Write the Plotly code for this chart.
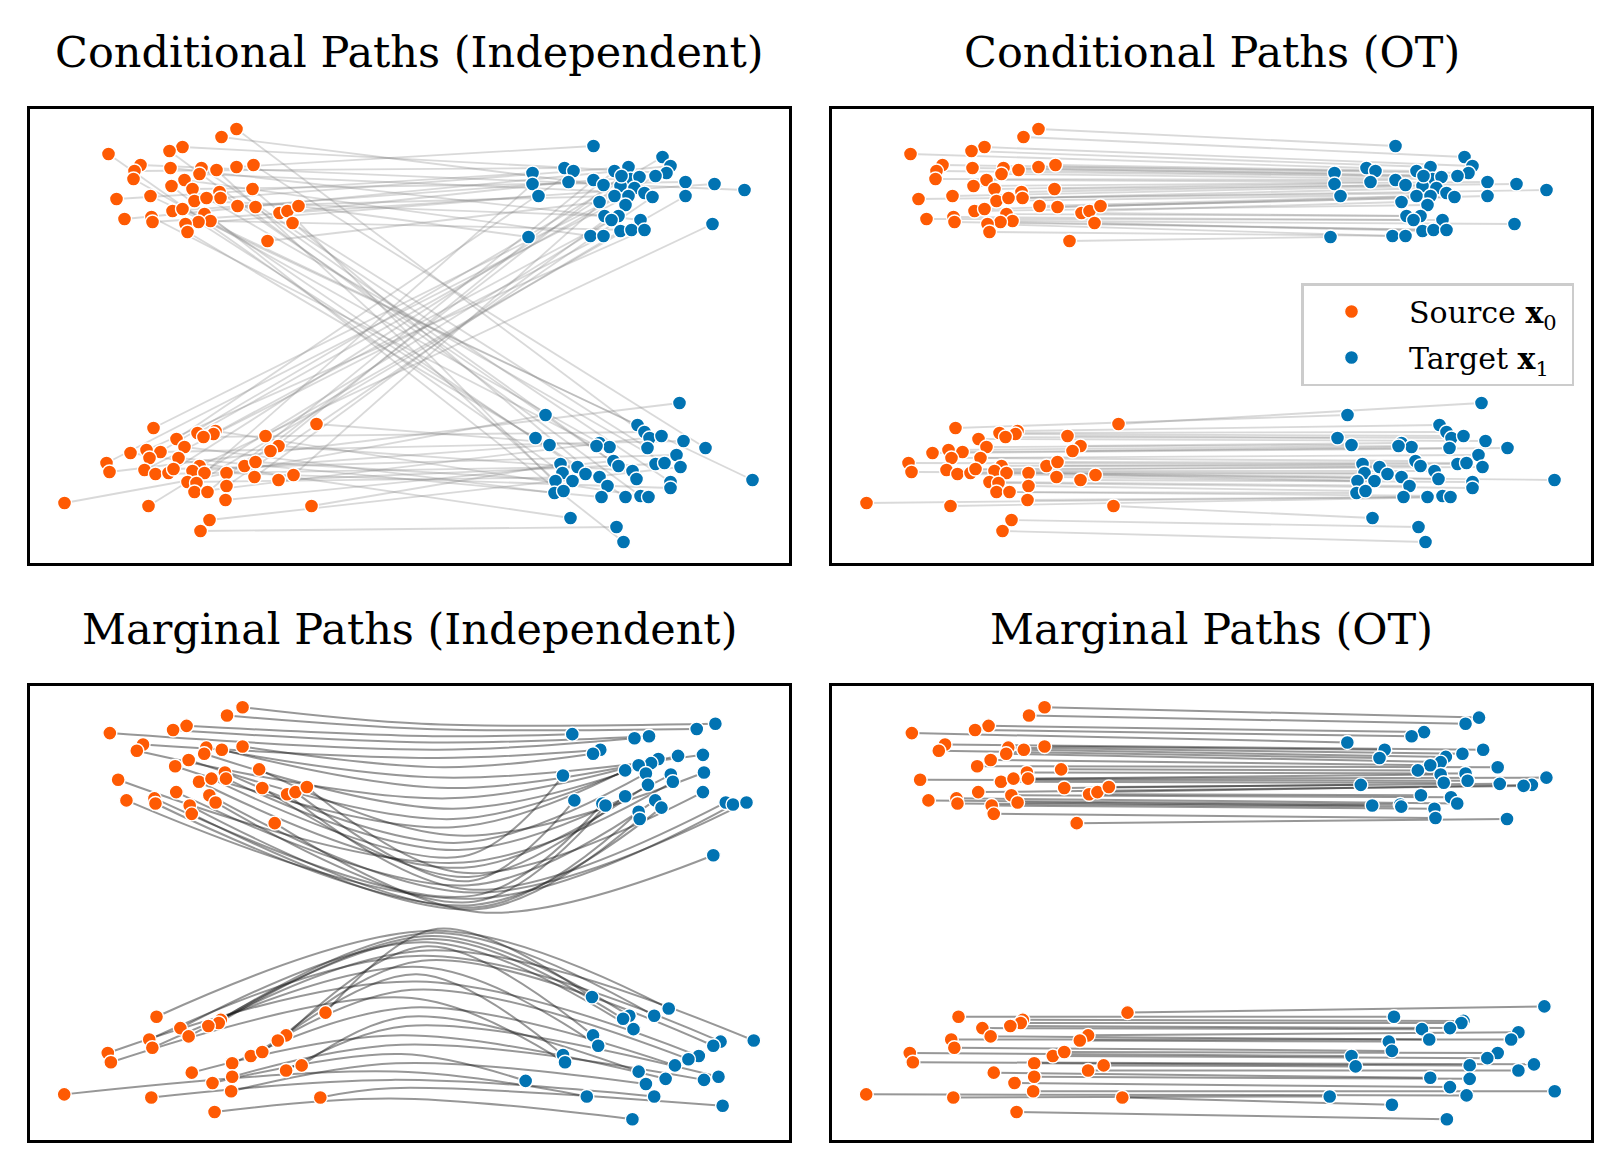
import plotly.graph_objects as go

SRC_COLOR = '#fe5a03'
TGT_COLOR = '#0173b2'
FONT = 'DejaVu Serif'

# ---------------- conditional samples (panels 1 and 2) ----------------
# sources x0: upper cluster (41) then lower cluster (42)
src_x = [-1.73, -1.88, -3.01, -2.27, -2.40, -2.69, -2.75, -2.76, -2.39, -2.08, -2.10, -1.93, -1.73, -1.56,
         -2.25, -2.38, -2.17, -1.90, -1.89, -1.57, -2.93, -2.59, -2.15, -2.03, -1.72, -1.54, -1.30, -1.22,
         -1.11, -1.17, -2.37, -2.27, -2.85, -2.58, -2.57, -2.05, -1.99, -2.11, -2.24, -2.22, -1.42,
         -2.56, -0.93, -2.12, -1.94, -1.96, -2.06, -2.33, -2.25, -1.44, -1.31, -1.39, -2.79, -2.63, -2.49,
         -2.60, -2.31, -3.03, -3.00, -2.65, -2.54, -2.41, -2.36, -2.10, -2.17, -2.05, -2.22, -2.13, -2.15,
         -2.02, -1.83, -1.83, -1.84, -1.65, -1.54, -1.55, -1.31, -1.16, -3.45, -2.61, -0.98, -2.00, -2.09]
src_y = [2.07, 1.99, 1.82, 1.89, 1.85, 1.71, 1.65, 1.57, 1.68, 1.68, 1.62, 1.66, 1.69, 1.71,
         1.56, 1.50, 1.47, 1.44, 1.38, 1.47, 1.37, 1.40, 1.35, 1.38, 1.30, 1.29, 1.23, 1.25,
         1.30, 1.13, 1.25, 1.27, 1.17, 1.19, 1.14, 1.22, 1.15, 1.14, 1.12, 1.04, 0.95,
         -0.92, -0.88, -0.97, -0.95, -0.98, -1.01, -1.03, -1.11, -1.00, -1.10, -1.15, -1.17, -1.14, -1.16,
         -1.22, -1.22, -1.27, -1.36, -1.34, -1.38, -1.37, -1.33, -1.30, -1.35, -1.37, -1.46, -1.47, -1.56,
         -1.56, -1.37, -1.50, -1.64, -1.30, -1.26, -1.41, -1.44, -1.39, -1.67, -1.70, -1.70, -1.84, -1.95]
n_top_src = 41

# targets x1: upper cluster (41) then lower cluster (42)
tgt_x = [1.84, 2.53, 2.61, 2.57, 2.46, 1.23, 1.23, 1.29, 1.55, 1.64, 1.59, 1.84, 1.94, 2.05, 2.19,
         2.21, 2.30, 2.11, 2.25, 2.35, 2.43, 2.05, 2.19, 1.90, 2.16, 2.76, 2.76, 3.05, 3.35, 3.03,
         1.95, 2.09, 2.02, 2.31, 2.11, 2.22, 2.35, 1.81, 1.94, 1.19, 2.12,
         2.70, 1.36, 2.28, 2.35, 2.40, 2.52, 2.38, 2.74, 2.96, 1.26, 1.40, 1.90, 2.00, 1.87, 2.04,
         2.09, 2.23, 2.27, 1.51, 1.53, 1.68, 1.76, 1.63, 1.46, 1.45, 1.54, 1.90, 1.98, 1.92, 2.16,
         2.31, 2.39, 2.46, 2.55, 2.67, 2.71, 2.61, 2.61, 3.43, 1.61, 2.07, 2.14]
tgt_y = [1.90, 1.79, 1.70, 1.63, 1.60, 1.63, 1.52, 1.40, 1.68, 1.65, 1.54, 1.56, 1.51, 1.65, 1.69,
         1.57, 1.59, 1.50, 1.48, 1.43, 1.39, 1.40, 1.40, 1.34, 1.31, 1.54, 1.40, 1.52, 1.46, 1.12,
         1.20, 1.20, 1.16, 1.16, 1.05, 1.06, 1.06, 1.00, 1.00, 0.99, 1.60,
         -0.67, -0.79, -0.89, -0.96, -1.02, -1.00, -1.12, -1.05, -1.12, -1.02, -1.09, -1.07, -1.11, -1.10,
         -1.25, -1.30, -1.35, -1.43, -1.28, -1.37, -1.31, -1.38, -1.45, -1.45, -1.57, -1.55, -1.41, -1.50,
         -1.61, -1.61, -1.60, -1.61, -1.28, -1.27, -1.19, -1.31, -1.46, -1.52, -1.44, -1.82, -1.91, -2.06]
n_top_tgt = 41

# independent coupling: target index for each source
indep_pair = [45, 12, 60, 3, 71, 28, 8, 52, 33, 77, 19, 64, 0, 49, 37, 82, 25, 56, 14, 68, 5, 43, 30,
              74, 21, 58, 10, 66, 39, 47, 16, 79, 2, 54, 27, 62, 35, 70, 7, 50, 23,
              18, 53, 4, 72, 31, 44, 9, 65, 26, 57, 13, 80, 36, 48, 1, 69, 22, 41, 38, 61, 15, 75, 29,
              51, 6, 67, 34, 46, 11, 78, 20, 55, 40, 63, 24, 73, 17, 42, 32, 59, 76, 81]

# ---------------- marginal paths (panels 3 and 4) ----------------
marg_idx_top = [0, 1, 2, 3, 4, 5, 6, 9, 10, 11, 12, 14, 15, 17, 18, 19, 20, 22, 23, 25, 26, 27, 28, 30,
                32, 33, 34, 35, 36, 38, 39, 40]
marg_idx_bot = [41, 42, 44, 45, 46, 47, 48, 50, 51, 53, 55, 57, 58, 66, 69, 70, 71, 72, 73, 74, 76, 77,
                78, 79, 80, 81]

# end points of the OT marginal flow
ot_top_x = [2.46, 2.33, 1.93, 1.81, 1.19, 2.50, 1.55, 2.30, 2.14, 1.50, 2.09, 1.99, 2.64, 1.87, 2.33, 2.09,
            3.11, 2.35, 2.12, 2.66, 1.32, 2.97, 2.89, 1.90, 2.19, 2.25, 1.70, 1.43, 1.71, 2.03, 2.04, 2.73]
ot_top_y = [1.97, 1.91, 1.83, 1.79, 1.73, 1.66, 1.66, 1.62, 1.59, 1.58, 1.54, 1.51, 1.49, 1.46, 1.43, 1.42,
            1.39, 1.36, 1.34, 1.33, 1.32, 1.32, 1.31, 1.22, 1.20, 1.14, 1.13, 1.12, 1.11, 1.09, 1.00, 0.99]
ot_bot_x = [3.09, 1.64, 2.31, 2.29, 2.18, 1.91, 2.84, 1.98, 2.77, 1.59, 1.62, 2.64, 1.23, 2.54, 2.99, 2.37,
            1.27, 2.84, 1.99, 2.37, 2.18, 3.19, 2.34, 1.02, 1.62, 2.15]
ot_bot_y = [-0.82, -0.92, -0.96, -0.98, -1.03, -1.04, -1.07, -1.14, -1.14, -1.16, -1.25, -1.27, -1.30, -1.32,
            -1.38, -1.39, -1.40, -1.44, -1.51, -1.52, -1.60, -1.64, -1.68, -1.69, -1.77, -1.91]

# end points of the independent marginal flow
ind_top_x = [1.45, 2.05, 2.19, 2.65, 2.83, 1.72, 1.65, 2.28, 2.21, 2.47, 2.71, 2.09, 1.96, 2.16, 1.36, 2.40,
             2.42, 2.72, 2.18, 2.71, 1.47, 1.74, 1.77, 1.96, 2.25, 2.31, 2.09, 2.10, 2.93, 3.00, 3.13, 2.81]
ind_top_y = [1.81, 1.77, 1.79, 1.86, 1.91, 1.66, 1.62, 1.57, 1.53, 1.60, 1.61, 1.51, 1.46, 1.43, 1.41, 1.42,
             1.35, 1.44, 1.32, 1.25, 1.17, 1.14, 1.12, 1.21, 1.17, 1.10, 1.06, 0.99, 1.15, 1.13, 1.15, 0.64]
ind_bot_x = [1.64, 2.38, 2.24, 2.00, 1.94, 2.04, 3.20, 2.88, 2.81, 1.65, 1.70, 1.36, 1.38, 2.67, 2.57, 2.44,
             2.09, 2.35, 2.16, 2.72, 2.86, 1.00, 1.59, 2.24, 2.90, 2.03]
ind_bot_y = [-0.73, -0.84, -0.91, -0.91, -0.94, -1.04, -1.15, -1.16, -1.20, -1.10, -1.20, -1.29, -1.36, -1.30,
             -1.33, -1.39, -1.45, -1.52, -1.57, -1.53, -1.50, -1.54, -1.69, -1.69, -1.78, -1.91]

# mid-way point of each independent marginal trajectory (ordered from highest source down)
mid_top_x = [0.0, 0.05, 0.1, 0.1, 0.15, 0.15, 0.2, 0.2, 0.25, 0.25, 0.3, 0.3, 0.3, 0.35, 0.35, 0.35,
             0.4, 0.4, 0.4, 0.4, 0.45, 0.45, 0.45, 0.45, 0.5, 0.5, 0.5, 0.5, 0.5, 0.55, 0.55, 0.55]
mid_top_y = [1.91, 1.86, 1.79, 1.73, 1.66, 1.58, 1.49, 1.39, 1.29, 1.19, 1.09, 0.99, 0.91, 0.83, 0.76, 0.69,
             0.63, 0.57, 0.52, 0.47, 0.43, 0.39, 0.35, 0.31, 0.28, 0.25, 0.22, 0.19, 0.16, 0.14, 0.12, 0.09]
mid_bot_x = [0.15, 0.15, 0.1, 0.1, 0.1, 0.05, 0.05, 0.05, 0.0, 0.0, 0.0, -0.05, -0.05, -0.1, -0.1, -0.1,
             -0.15, -0.15, -0.2, -0.2, -0.2, -0.25, -0.25, -0.3, -0.3, -0.3]
mid_bot_y = [-0.07, -0.09, -0.11, -0.14, -0.17, -0.20, -0.24, -0.28, -0.33, -0.38, -0.44, -0.51, -0.58,
             -0.66, -0.74, -0.83, -0.92, -1.01, -1.10, -1.19, -1.28, -1.37, -1.45, -1.53, -1.61, -1.71]

titles = ['Conditional Paths (Independent)', 'Conditional Paths (OT)',
          'Marginal Paths (Independent)', 'Marginal Paths (OT)']

# ---------------- figure ----------------
fig = go.Figure()
COND_LINE = 'rgba(128,128,128,0.3)'
MARG_LINE = 'rgba(25,25,25,0.45)'


def by_y_desc(idx, ys):
    return sorted(idx, key=lambda i: -ys[i])


def add_line(xs, ys, ax, color, width, shape='linear'):
    fig.add_trace(go.Scatter(x=xs, y=ys, mode='lines', xaxis='x' + ax, yaxis='y' + ax,
                             line=dict(color=color, width=width, shape=shape, smoothing=1.0),
                             hoverinfo='skip', showlegend=False))


def add_points(xs, ys, ax, color, name, legend):
    fig.add_trace(go.Scatter(x=xs, y=ys, mode='markers', xaxis='x' + ax, yaxis='y' + ax,
                             marker=dict(color=color, size=14, line=dict(color='white', width=1.4)),
                             name=name, legendgroup=name, showlegend=legend, hoverinfo='skip'))


# panel 1: independent coupling
for i, j in enumerate(indep_pair):
    add_line([src_x[i], tgt_x[j]], [src_y[i], tgt_y[j]], '', COND_LINE, 1.8)

# panel 2: OT coupling (matched by height inside each cluster)
n_src, n_tgt = len(src_x), len(tgt_x)
pairs = list(zip(by_y_desc(range(n_top_src), src_y), by_y_desc(range(n_top_tgt), tgt_y)))
pairs += list(zip(by_y_desc(range(n_top_src, n_src), src_y), by_y_desc(range(n_top_tgt, n_tgt), tgt_y)))
for i, j in pairs:
    add_line([src_x[i], tgt_x[j]], [src_y[i], tgt_y[j]], '2', COND_LINE, 1.8)

# panels 3 and 4
msx, msy, ex3, ey3, ex4, ey4 = [], [], [], [], [], []
for idx, ix3, iy3, mx, my, ix4, iy4 in [
        (marg_idx_top, ind_top_x, ind_top_y, mid_top_x, mid_top_y, ot_top_x, ot_top_y),
        (marg_idx_bot, ind_bot_x, ind_bot_y, mid_bot_x, mid_bot_y, ot_bot_x, ot_bot_y)]:
    s_order = by_y_desc(idx, src_y)
    e3_order = by_y_desc(range(len(iy3)), iy3)
    e4_order = by_y_desc(range(len(iy4)), iy4)
    for r, s in enumerate(s_order):
        a, b = e3_order[r], e4_order[r]
        add_line([src_x[s], mx[r], ix3[a]], [src_y[s], my[r], iy3[a]], '3', MARG_LINE, 2.0, 'spline')
        add_line([src_x[s], ix4[b]], [src_y[s], iy4[b]], '4', MARG_LINE, 2.0)
    msx += [src_x[s] for s in idx]
    msy += [src_y[s] for s in idx]
    ex3 += ix3
    ey3 += iy3
    ex4 += ix4
    ey4 += iy4

SRC_NAME = '\u00a0Source <b>x</b><sub>0</sub>\u00a0'
TGT_NAME = '\u00a0Target <b>x</b><sub>1</sub>\u00a0'
add_points(src_x, src_y, '', SRC_COLOR, SRC_NAME, False)
add_points(tgt_x, tgt_y, '', TGT_COLOR, TGT_NAME, False)
add_points(src_x, src_y, '2', SRC_COLOR, SRC_NAME, True)
add_points(tgt_x, tgt_y, '2', TGT_COLOR, TGT_NAME, True)
add_points(msx, msy, '3', SRC_COLOR, SRC_NAME, False)
add_points(ex3, ey3, '3', TGT_COLOR, TGT_NAME, False)
add_points(msx, msy, '4', SRC_COLOR, SRC_NAME, False)
add_points(ex4, ey4, '4', TGT_COLOR, TGT_NAME, False)

# page layout (pixels inside the figure; the page body adds its own 8 px margin)
W, H = 1604, 1154
xd_left = [22 / W, 781 / W]
xd_right = [824 / W, 1583 / W]
yd_top = [1 - 554.5 / H, 1 - 100.5 / H]
yd_bot = [1 - 1131.5 / H, 1 - 677.5 / H]
xr_top, yr_top = [-3.795, 3.795], [-2.265, 2.275]
xr_bot, yr_bot = [-3.78, 3.54], [-2.106, 2.28]


def axis(domain, rng, anchor):
    return dict(domain=domain, range=rng, anchor=anchor, showticklabels=False, ticks='',
                showgrid=False, zeroline=False, showline=True, linecolor='black',
                linewidth=3, mirror=True, fixedrange=True)


annotations = []
for k, (xd, yc) in enumerate([(xd_left, 44), (xd_right, 44), (xd_left, 621), (xd_right, 621)]):
    annotations.append(dict(text=titles[k], x=(xd[0] + xd[1]) / 2, y=1 - yc / H, xref='paper',
                            yref='paper', xanchor='center', yanchor='middle', showarrow=False,
                            font=dict(family=FONT, size=43, color='black')))

fig.update_layout(
    width=W, height=H, autosize=False,
    margin=dict(l=0, r=0, t=0, b=0),
    paper_bgcolor='white', plot_bgcolor='white',
    xaxis=axis(xd_left, xr_top, 'y'), yaxis=axis(yd_top, yr_top, 'x'),
    xaxis2=axis(xd_right, xr_top, 'y2'), yaxis2=axis(yd_top, yr_top, 'x2'),
    xaxis3=axis(xd_left, xr_bot, 'y3'), yaxis3=axis(yd_bot, yr_bot, 'x3'),
    xaxis4=axis(xd_right, xr_bot, 'y4'), yaxis4=axis(yd_bot, yr_bot, 'x4'),
    annotations=annotations,
    legend=dict(x=1566 / W, y=1 - 275 / H, xanchor='right', yanchor='top',
                bgcolor='rgba(255,255,255,0.85)', bordercolor='#cccccc', borderwidth=2.5,
                font=dict(family=FONT, size=30, color='black'), itemwidth=86,
                traceorder='grouped', tracegroupgap=4),
    showlegend=True,
)

fig.write_html('out.html')
